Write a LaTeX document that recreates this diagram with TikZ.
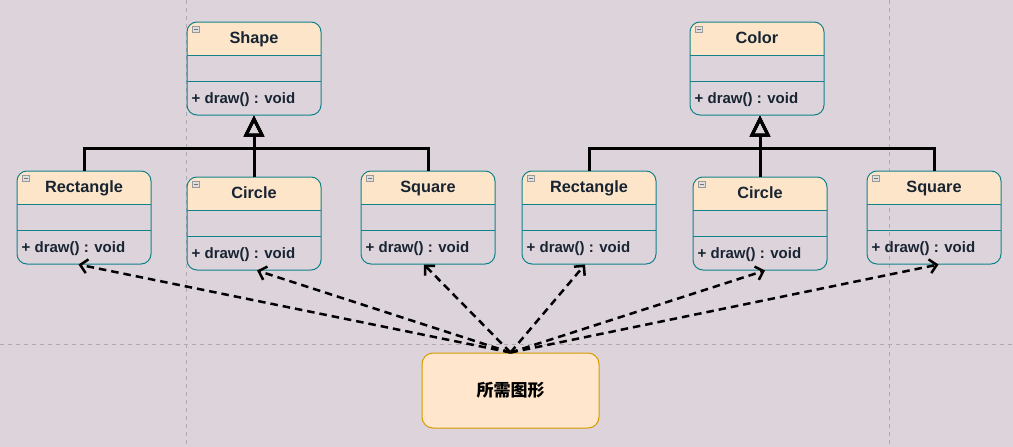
\documentclass[tikz,border=0pt]{standalone}
\usepackage{fontspec}
\setmainfont{Liberation Sans}
\newfontfamily\cjk{Noto Sans CJK SC}
\usetikzlibrary{arrows.meta}
\definecolor{bgcol}{RGB}{220,211,219}
\definecolor{tealb}{RGB}{18,130,138}
\definecolor{headfill}{RGB}{252,229,200}
\definecolor{needfill}{RGB}{255,230,204}
\definecolor{needdraw}{RGB}{215,155,0}
\definecolor{gridcol}{RGB}{178,170,178}
\definecolor{txt}{RGB}{24,36,50}
\tikzset{
  classbox/.style={draw=tealb, line width=1pt, rounded corners=10pt, minimum width=134pt, minimum height=93pt, inner sep=0pt},
  divider/.style={draw=tealb, line width=1pt},
  iconbox/.style={draw=gray!80, fill=gray!25, line width=0.6pt},
  iconbar/.style={draw=gray!90!black, line width=0.8pt},
  titletext/.style={font=\fontsize{16.3}{19}\selectfont\bfseries, text=txt, inner sep=0pt, anchor=base},
  methodtext/.style={font=\fontsize{15}{18}\selectfont\bfseries, text=txt, inner sep=0pt, anchor=base west},
  gridline/.style={draw=gridcol, line width=0.6pt, dash pattern=on 4pt off 4pt},
  inh/.style={draw=black, line width=3pt, -{Triangle[open, length=21pt, width=20pt, line join=miter]}},
  dep/.style={draw=black, line width=2.5pt, dash pattern=on 7.5pt off 5pt, -{Straight Barb[length=7pt, width=14pt]}},
  needbox/.style={draw=needdraw, fill=needfill, line width=1pt, rounded corners=11pt, minimum width=177pt, minimum height=75pt, inner sep=0pt, font=\cjk\bfseries\fontsize{17}{20}\selectfont, text=black}
}
\newcommand\umlclass[4]{%
  \begin{scope}
    \clip (#2,#3) rectangle ++(134,33);
    \fill[headfill, rounded corners=10pt] (#2,#3) rectangle ++(134,93);
  \end{scope}
  \node[classbox] (#1) at (#2+67,#3+46.5) {};
  \draw[divider] (#2,#3+33) -- ++(134,0);
  \draw[divider] (#2,#3+59) -- ++(134,0);
  \draw[iconbox] (#2+5,#3+4) rectangle ++(7,6);
  \draw[iconbar] (#2+6.5,#3+7) -- ++(4,0);
  \node[titletext] (#1-title) at (#2+67,#3+21) {#4};
  \node[methodtext] (#1-method) at (#2+4.5,#3+81) {+ draw() : void};
}
\begin{document}
\begin{tikzpicture}[x=1pt,y=-1pt]
  \fill[bgcol] (0,0) rectangle (1013,447);
  \useasboundingbox (0,0) rectangle (1013,447);
  \draw[gridline] (186,0) -- (186,447);
  \draw[gridline] (889,0) -- (889,447);
  \draw[gridline] (0,344) -- (1013,344);

  \umlclass{shape}{187}{22}{Shape}
  \umlclass{color}{690}{22}{Color}
  \umlclass{rectA}{17}{171}{Rectangle}
  \umlclass{circA}{187}{177}{Circle}
  \umlclass{sqA}{361}{171}{Square}
  \umlclass{rectB}{522}{171}{Rectangle}
  \umlclass{circB}{693}{177}{Circle}
  \umlclass{sqB}{867}{171}{Square}

  \node[needbox] (need) at (510.5,390.5) {所需图形};

  \coordinate (jA) at (254,148);
  \coordinate (jB) at (760,148);
  \draw[inh] (rectA.north) |- (jA) -- (shape.south);
  \draw[inh] (sqA.north) |- (jA) -- (shape.south);
  \draw[inh] (circA.north) -- (shape.south);
  \draw[inh] (rectB.north) |- (jB) -- (jB |- color.south);
  \draw[inh] (sqB.north) |- (jB) -- (jB |- color.south);
  \draw[inh] (circB.north) -- (circB.north |- color.south);

  \draw[dep] (need.north) -- ([xshift=-5.5]rectA.south);
  \draw[dep] (need.north) -- ([xshift=3]circA.south);
  \draw[dep] (need.north) -- ([xshift=-4]sqA.south);
  \draw[dep] (need.north) -- ([xshift=-4]rectB.south);
  \draw[dep] (need.north) -- ([xshift=5]circB.south);
  \draw[dep] (need.north) -- ([xshift=4.5]sqB.south);
\end{tikzpicture}
\end{document}
